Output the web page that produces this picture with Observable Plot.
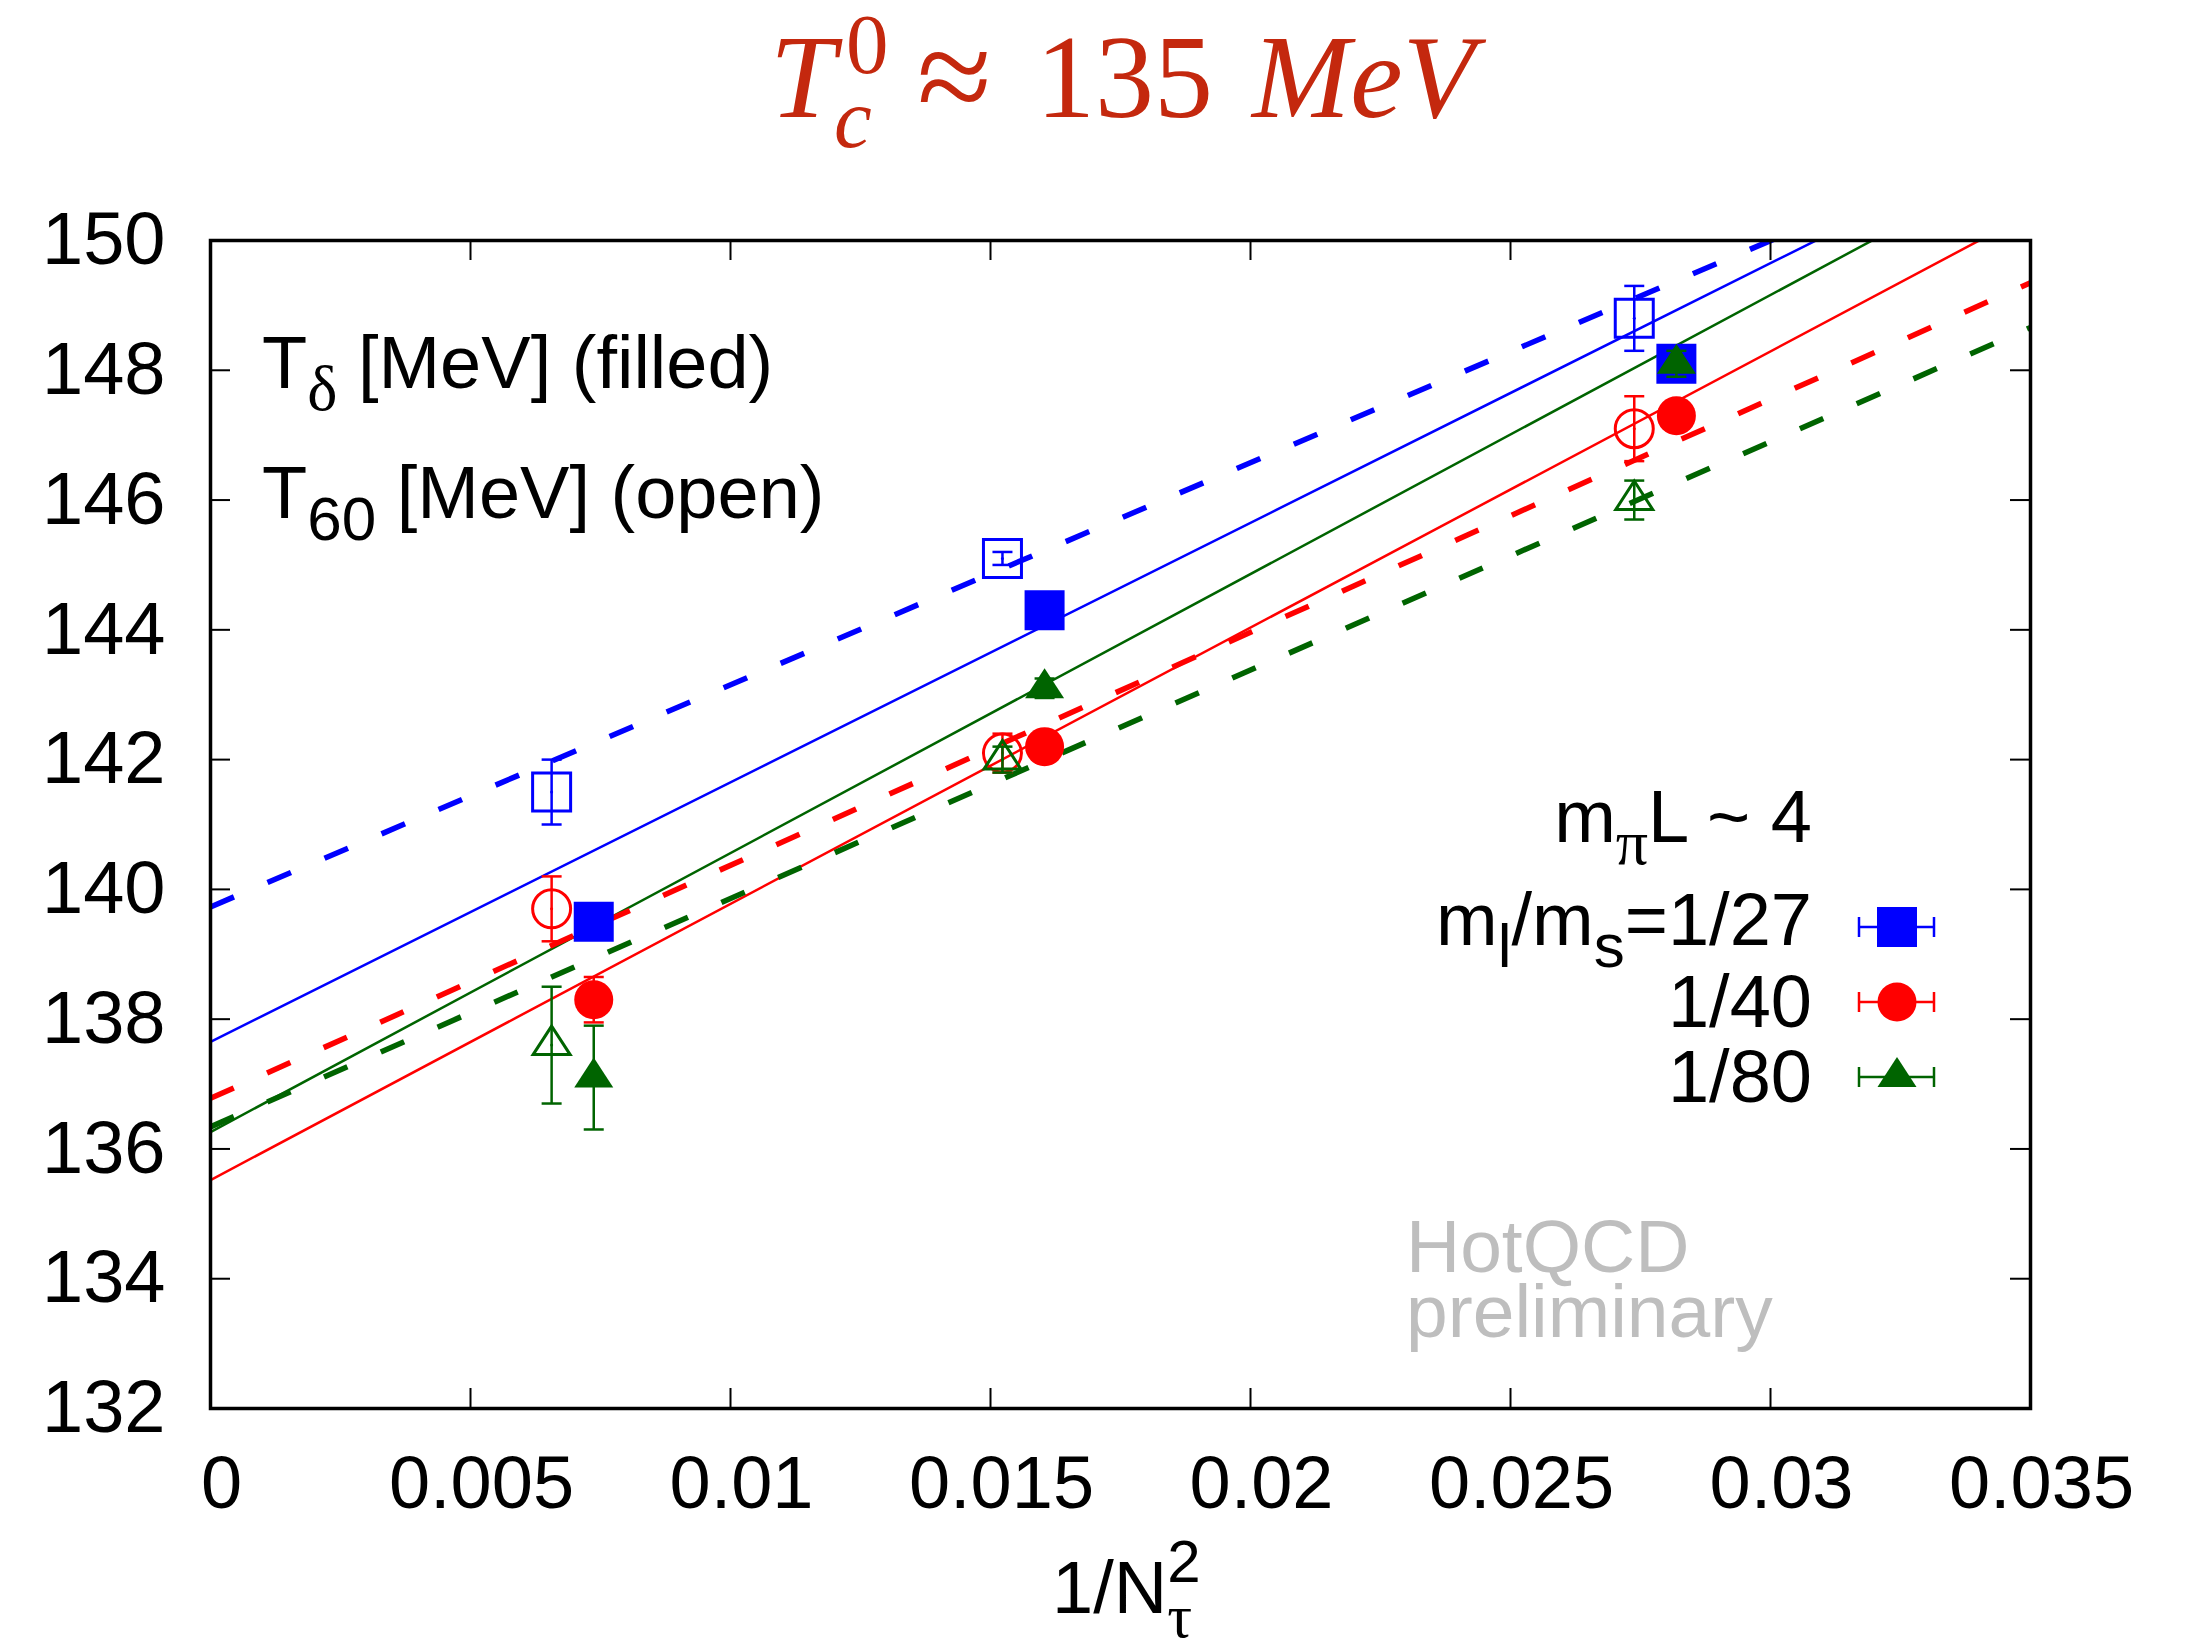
<!DOCTYPE html>
<html><head><meta charset="utf-8">
<script src="https://cdn.jsdelivr.net/npm/d3@7"></script>
<script src="https://cdn.jsdelivr.net/npm/@observablehq/plot@0.6"></script>
<style>html,body{margin:0;padding:0;background:#fff;} #chart{width:2192px;height:1648px;}</style>
</head><body><div id="chart"></div>
<script>
// ---------- data ----------
const xTicks = [0, 0.005, 0.01, 0.015, 0.02, 0.025, 0.03, 0.035];
const yTicks = [132, 134, 136, 138, 140, 142, 144, 146, 148, 150];
const seriesNames = ["1/27", "1/40", "1/80"];
const seriesColors = ["#0000ff", "#ff0000", "#006400"];

// T60 (open symbols)
const xOpen = [0.00656, 0.01523, 0.02738];
const t60_27 = [141.5, 145.1, 148.8];
const t60_27_err = [0.5, 0.1, 0.5];
const t60_40 = [139.7, 142.1, 147.1];
const t60_40_err = [0.5, 0.3, 0.5];
const t60_80 = [137.6, 142.0, 146.0];
const t60_80_err = [0.9, 0.2, 0.3];

// T_delta (filled symbols)
const xFilled = [0.00737, 0.01604, 0.02819];
const td_27 = [139.5, 144.3, 148.1];
const td_27_err = [0.2, 0.15, 0.2];
const td_40 = [138.3, 142.2, 147.3];
const td_40_err = [0.35, 0.2, 0.2];
const td_80 = [137.1, 143.1, 148.1];
const td_80_err = [0.8, 0.15, 0.2];

// linear fits: values at x = 0 and x = 0.035
const fitX = [0, 0.035];
const fitDelta_27 = [137.65, 151.65];
const fitDelta_40 = [135.52, 150.42];
const fitDelta_80 = [136.26, 151.31];
const fit60_27 = [139.73, 151.71];
const fit60_40 = [136.78, 149.35];
const fit60_80 = [136.34, 148.66];

// ---------- tables ----------
function rows(xs, ys, errs, series, kind) {
  return xs.map((x, i) => ({x, y: ys[i], err: errs[i], series, kind}));
}
const openPts = [
  rows(xOpen, t60_27, t60_27_err, 0, "open"),
  rows(xOpen, t60_40, t60_40_err, 1, "open"),
  rows(xOpen, t60_80, t60_80_err, 2, "open")
];
const filledPts = [
  rows(xFilled, td_27, td_27_err, 0, "filled"),
  rows(xFilled, td_40, td_40_err, 1, "filled"),
  rows(xFilled, td_80, td_80_err, 2, "filled")
];
const fitSolid = [fitDelta_27, fitDelta_40, fitDelta_80].map(v => fitX.map((x, i) => ({x, y: v[i]})));
const fitDashed = [fit60_27, fit60_40, fit60_80].map(v => fitX.map((x, i) => ({x, y: v[i]})));

// ---------- symbols ----------
const sq = h => ({draw(c){c.moveTo(-h,-h);c.lineTo(h,-h);c.lineTo(h,h);c.lineTo(-h,h);c.closePath();}});
const circ = r => ({draw(c){c.moveTo(r,0);c.arc(0,0,r,0,2*Math.PI);c.closePath();}});
const tri = (w,t,b) => ({draw(c){c.moveTo(0,-t);c.lineTo(w,b);c.lineTo(-w,b);c.closePath();}});
const cap = {draw(c){c.moveTo(-10,0);c.lineTo(10,0);}};
const filledSyms = [sq(20), circ(19.5), tri(19.5,20,10)];
const openSyms = [sq(19), circ(19), tri(18.5,19,9.5)];

const marks = [];
// fit lines
fitSolid.forEach((d, i) => marks.push(Plot.line(d, {x: "x", y: "y", stroke: seriesColors[i], strokeWidth: 2.5, clip: true})));
fitDashed.forEach((d, i) => marks.push(Plot.line(d, {x: "x", y: "y", stroke: seriesColors[i], strokeWidth: 5.5, strokeDasharray: "25.5,36.5", strokeLinecap: "butt", clip: true})));

// points with error bars
function addPoints(data, i, open) {
  const col = seriesColors[i];
  marks.push(Plot.ruleX(data, {x: "x", y1: d => d.y - d.err, y2: d => d.y + d.err, stroke: col, strokeWidth: 2.5}));
  marks.push(Plot.dot(data, {x: "x", y: d => d.y + d.err, symbol: cap, r: 5, fill: "none", stroke: col, strokeWidth: 2.5}));
  marks.push(Plot.dot(data, {x: "x", y: d => d.y - d.err, symbol: cap, r: 5, fill: "none", stroke: col, strokeWidth: 2.5}));
  if (open) {
    marks.push(Plot.dot(data, {x: "x", y: "y", symbol: openSyms[i], r: 10, fill: "none", stroke: col, strokeWidth: 3}));
    marks.push(Plot.dot(data, {x: "x", y: "y", r: 1.5, fill: col, stroke: "none"}));
  } else {
    marks.push(Plot.dot(data, {x: "x", y: "y", symbol: filledSyms[i], r: 10, fill: col, stroke: "none"}));
  }
}
openPts.forEach((d, i) => addPoints(d, i, true));
filledPts.forEach((d, i) => addPoints(d, i, false));

// inward ticks on all four sides
marks.push(Plot.tickY(yTicks, {y: d => d, insetRight: 1800, stroke: "black", strokeWidth: 2}));
marks.push(Plot.tickY(yTicks, {y: d => d, insetLeft: 1800, stroke: "black", strokeWidth: 2}));
marks.push(Plot.tickX(xTicks, {x: d => d, insetTop: 1148, stroke: "black", strokeWidth: 2}));
marks.push(Plot.tickX(xTicks, {x: d => d, insetBottom: 1148, stroke: "black", strokeWidth: 2}));
marks.push(Plot.frame({stroke: "black", strokeWidth: 3.5}));
marks.push(Plot.axisY({ticks: yTicks, tickSize: 0, tickPadding: 45, fontSize: 74, label: null, tickFormat: d3.format("d")}));
marks.push(Plot.axisX({ticks: xTicks, tickSize: 0, tickPadding: 47, fontSize: 74, label: null, dx: 11, tickFormat: d3.format("~g")}));

const SANS = "'Liberation Sans', Arial, Helvetica, sans-serif";
const SERIF = "'Liberation Serif', 'Times New Roman', serif";

const svg = Plot.plot({
  width: 2192, height: 1648,
  marginLeft: 210, marginRight: 162, marginTop: 240, marginBottom: 240,
  x: {domain: [0, 0.035]},
  y: {domain: [132, 150]},
  style: {fontFamily: SANS, background: "white", color: "black", overflow: "visible"},
  marks
});
document.getElementById("chart").appendChild(svg);

// ---------- annotations (rich text) ----------
const root = d3.select(svg).append("g").attr("class", "annotations").attr("text-anchor", "start");

function rich(x, y, parts, {anchor = "start", size = 74, family = SANS, fill = "black"} = {}) {
  const text = root.append("text").attr("x", x).attr("y", y).attr("text-anchor", anchor)
    .attr("font-size", size).attr("font-family", family).attr("fill", fill);
  let cur = 0, prev = null;
  for (const p of parts) {
    const off = p.shift || 0;
    const ts = text.append("tspan").text(p.t);
    if (p.size) ts.attr("font-size", p.size);
    if (p.family) ts.attr("font-family", p.family);
    if (p.style) ts.attr("font-style", p.style);
    if (off !== cur) ts.attr("dy", off - cur);
    cur = off;
    if (p.back && prev) ts.attr("dx", -prev.node().getComputedTextLength());
    prev = ts;
  }
  return text;
}

// title: one text element, pieces placed absolutely
const TITLE = "#c4280e";
const title = root.append("text").attr("text-anchor", "start").attr("font-family", SERIF).attr("fill", TITLE);
[
  {x: 770, y: 117, size: 118, italic: true, t: "T"},
  {x: 846, y: 73, size: 85, italic: false, t: "0"},
  {x: 834, y: 147, size: 85, italic: true, t: "c"},
  {x: 917, y: 122, size: 136, italic: false, t: "≈"},
  {x: 1036, y: 117, size: 118, italic: false, t: "135"},
  {x: 1252, y: 117, size: 118, italic: true, t: "MeV"}
].forEach(p => title.append("tspan").attr("x", p.x).attr("y", p.y).attr("font-size", p.size)
  .attr("font-style", p.italic ? "italic" : "normal").text(p.t));

// inside labels
rich(262, 388, [{t: "T"}, {t: "δ", shift: 22, size: 64, family: SERIF}, {t: " [MeV] (filled)"}]);
rich(262, 518, [{t: "T"}, {t: "60", shift: 22, size: 62}, {t: " [MeV] (open)"}]);

// legend
rich(1812, 842, [{t: "m"}, {t: "π", shift: 22, size: 64, family: SERIF}, {t: "L ~ 4"}], {anchor: "end"});
rich(1812, 945, [{t: "m"}, {t: "l", shift: 22, size: 62}, {t: "/m"}, {t: "s", shift: 22, size: 62}, {t: "=1/27"}], {anchor: "end"});
rich(1812, 1027, [{t: "1/40"}], {anchor: "end"});
rich(1812, 1102, [{t: "1/80"}], {anchor: "end"});
const legY = [927, 1002, 1077];
legY.forEach((ly, i) => {
  const col = seriesColors[i];
  const g = root.append("g").attr("stroke", col).attr("stroke-width", 2.5);
  g.append("line").attr("x1", 1859).attr("x2", 1934).attr("y1", ly).attr("y2", ly);
  g.append("line").attr("x1", 1859).attr("x2", 1859).attr("y1", ly - 10).attr("y2", ly + 10);
  g.append("line").attr("x1", 1934).attr("x2", 1934).attr("y1", ly - 10).attr("y2", ly + 10);
  const path = d3.path();
  filledSyms[i].draw(path);
  root.append("path").attr("d", path.toString()).attr("fill", col)
    .attr("transform", `translate(1897,${ly})`);
});

// watermark (one text, two lines)
const wm = root.append("text").attr("font-size", 75).attr("font-family", SANS).attr("fill", "#bebebe");
wm.append("tspan").attr("x", 1406).attr("y", 1272).text("HotQCD");
wm.append("tspan").attr("x", 1406).attr("y", 1337).text("preliminary");

// x axis label
rich(1052, 1613, [{t: "1/N"}, {t: "2", shift: -31, size: 60}, {t: "τ", shift: 24, size: 62, family: SERIF, back: true}]);
</script>
</body></html>
